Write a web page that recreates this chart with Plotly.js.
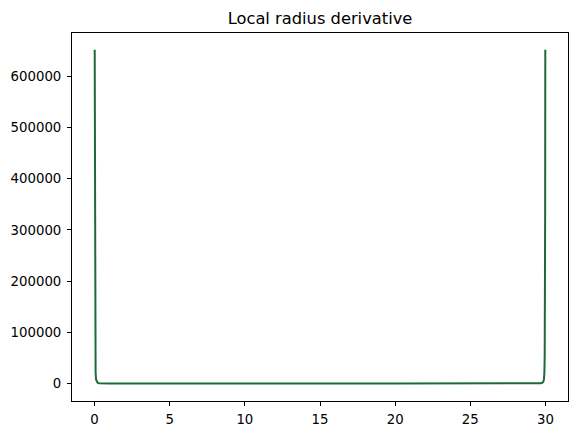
<!DOCTYPE html>
<html>
<head>
<meta charset="utf-8">
<script src="https://cdn.plot.ly/plotly-3.0.1.min.js"></script>
<style>html,body{margin:0;padding:0;background:#fff;}</style>
</head>
<body>
<div id="chart" style="width:578px;height:435px;"></div>
<script>
// Values
const xValues = [0.01, 0.02, 0.03, 0.04, 0.05, 0.07, 0.1, 0.15, 0.2, 0.3, 0.5, 0.7, 1, 2, 5, 10, 14.99, 15, 15.01, 15.02, 20, 25, 28, 29, 29.3, 29.5, 29.7, 29.8, 29.85, 29.9, 29.93, 29.95, 29.96, 29.97, 29.98, 29.99];
const yValues = [652000, 330000, 150000, 90000, 55000, 22000, 8000, 3000, 1500, 600, 200, 90, 50, 15, 5, 3, 2, 1500, -1500, 2, 3, 5, 15, 50, 90, 200, 600, 1500, 3000, 8000, 22000, 55000, 90000, 150000, 330000, 652000];
const titleText = "Local radius derivative";
const yTicks = [0, 100000, 200000, 300000, 400000, 500000, 600000];
const xTicks = [0, 5, 10, 15, 20, 25, 30];

const ymin = Math.min(...yValues), ymax = Math.max(...yValues);
const yr = ymax - ymin;
const xmin = 0, xmax = 30;
const xr = xmax - xmin;

const font = {family: "DejaVu Sans", size: 13.3, color: "#000"};
Plotly.newPlot("chart", [{
  x: xValues, y: yValues, type: "scatter", mode: "lines",
  line: {color: "#1b6a37", width: 2},
  hoverinfo: "skip"
}], {
  width: 578, height: 435,
  margin: {l: 72, r: 10, t: 33, b: 34, pad: 0},
  paper_bgcolor: "#fff", plot_bgcolor: "#fff",
  showlegend: false,
  font: font,
  title: {text: titleText, font: {family: "DejaVu Sans", size: 16.3, color: "#000"},
          x: 0.5, xref: "paper", y: 1 - 18/435, yref: "container", yanchor: "middle"},
  xaxis: {range: [xmin - 0.05*xr, xmax + 0.05*xr], tickvals: xTicks, ticktext: xTicks.map(String),
          ticks: "outside", ticklen: 4, tickwidth: 1, tickcolor: "#000", ticklabelstandoff: 2,
          showline: true, linecolor: "#000", linewidth: 1, mirror: true,
          showgrid: false, zeroline: false, tickfont: font},
  yaxis: {range: [ymin - 0.05*yr, ymax + 0.05*yr], tickvals: yTicks, ticktext: yTicks.map(String),
          ticks: "outside", ticklen: 4, tickwidth: 1, tickcolor: "#000", ticklabelstandoff: 3,
          showline: true, linecolor: "#000", linewidth: 1, mirror: true,
          showgrid: false, zeroline: false, tickfont: font}
}, {staticPlot: true});
</script>
</body>
</html>
